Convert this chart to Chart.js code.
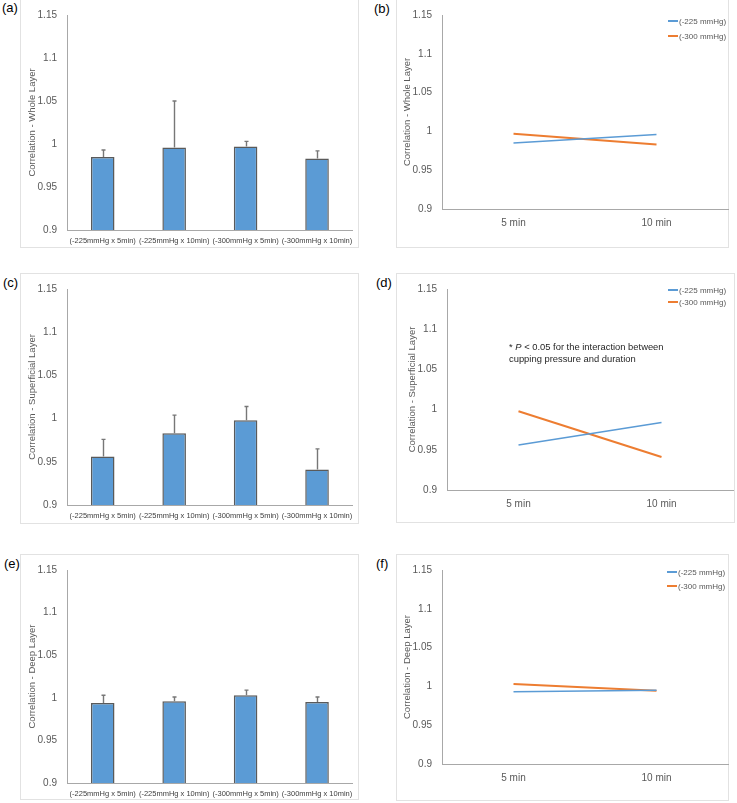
<!DOCTYPE html>
<html><head><meta charset="utf-8">
<script src="https://cdn.jsdelivr.net/npm/chart.js@4.4.0/dist/chart.umd.min.js"></script>
<style>
body{margin:0;background:#fff;width:737px;height:803px;position:relative;overflow:hidden;font-family:"Liberation Sans",Arial,sans-serif;}
.box{position:absolute;border:1px solid #e2e2e2;box-sizing:border-box;}
canvas{position:absolute;}
.lbl{position:absolute;font-size:13px;line-height:16px;color:#000;}
.leg{position:absolute;font-size:8px;line-height:10px;color:#595959;white-space:nowrap;}
.leg span{display:inline-block;width:10px;vertical-align:middle;margin-right:1px;position:relative;top:-1px;}
.note{position:absolute;font-size:9.4px;line-height:12px;color:#262626;white-space:nowrap;}
</style></head><body>
<script>
// ---- data ----
const barCategories = ['(-225mmHg x 5min)', '(-225mmHg x 10min)', '(-300mmHg x 5min)', '(-300mmHg x 10min)'];
const lineCategories = ['5 min', '10 min'];
const seriesNames = ['(-225 mmHg)', '(-300 mmHg)'];
const yTickLabels = ['0.9', '0.95', '1', '1.05', '1.1', '1.15'];

const wholeMeans = [0.985, 0.996, 0.997, 0.983];
const wholeSD = [0.008, 0.054, 0.006, 0.009];
const superficialMeans = [0.956, 0.983, 0.998, 0.941];
const superficialSD = [0.020, 0.021, 0.016, 0.024];
const deepMeans = [0.994, 0.996, 1.003, 0.995];
const deepSD = [0.009, 0.005, 0.006, 0.006];

const whole225 = [0.985, 0.996];
const whole300 = [0.997, 0.983];
const superficial225 = [0.956, 0.984];
const superficial300 = [0.998, 0.941];
const deep225 = [0.993, 0.995];
const deep300 = [1.003, 0.9945];

// ---- layout ----
const FONT = '"Liberation Sans", Arial, sans-serif';
const BLUE = '#5B9BD5', ORANGE = '#ED7D31', AXIS = '#a8a8a8', TXT = '#595959';

const errorBarPlugin = {
  id: 'errorBars',
  afterDatasetsDraw(chart, args, opts) {
    const sd = opts.sd; if (!sd) return;
    const meta = chart.getDatasetMeta(0);
    const ys = chart.scales.y;
    const ctx = chart.ctx;
    const vals = chart.data.datasets[0].data;
    ctx.save();
    ctx.strokeStyle = '#777777';
    ctx.lineWidth = 1.4;
    meta.data.forEach((bar, i) => {
      const yt = ys.getPixelForValue(vals[i] + sd[i]);
      const x = Math.round(bar.x) + 0.5;
      ctx.beginPath();
      ctx.moveTo(x, bar.y); ctx.lineTo(x, yt);
      ctx.moveTo(x - 2, yt); ctx.lineTo(x + 2, yt);
      ctx.stroke();
    });
    ctx.restore();
  }
};

function addBox(p) {
  const d = document.createElement('div');
  d.className = 'box';
  d.style.cssText = `left:${p.l}px;top:${p.t}px;width:${p.w}px;height:${p.h}px;`;
  document.body.appendChild(d);
  const c = document.createElement('canvas');
  c.width = p.w; c.height = p.h;
  c.style.left = p.l + 'px'; c.style.top = p.t + 'px';
  document.body.appendChild(c);
  const lb = document.createElement('div');
  lb.className = 'lbl'; lb.textContent = p.label;
  lb.style.left = p.lx + 'px'; lb.style.top = p.ly + 'px';
  document.body.appendChild(lb);
  return c;
}

function yScale(p) {
  return {
    min: 0.9, max: 1.15,
    ticks: { stepSize: 0.05, padding: 10, color: TXT, font: { size: 10, family: FONT },
      callback: v => yTickLabels[Math.round((v - 0.9) / 0.05)] },
    grid: { display: false, drawTicks: false },
    border: { display: true, color: AXIS, width: 1 },
    title: { display: true, text: p.ytitle, color: TXT, font: { size: 9.5, family: FONT }, padding: { top: p.tp, bottom: 0 } },
    afterFit: s => { s.width = p.yw; }
  };
}

function barChart(p, means, sd) {
  const c = addBox(p);
  new Chart(c, {
    type: 'bar',
    data: { labels: barCategories, datasets: [{ data: means, backgroundColor: BLUE, borderColor: '#5a5a5a', borderWidth: 1.5, barPercentage: 0.33, categoryPercentage: 1 }] },
    options: {
      responsive: false, animation: false, devicePixelRatio: 1,
      layout: { padding: { top: p.pt, right: p.pr, left: 0, bottom: 0 } },
      plugins: { legend: { display: false }, tooltip: { enabled: false }, errorBars: { sd: sd } },
      scales: {
        x: { ticks: { padding: 6, color: '#404040', font: { size: 7.5, family: FONT }, maxRotation: 0, autoSkip: false },
          grid: { display: false, drawTicks: false }, border: { display: true, color: AXIS },
          afterFit: s => { s.height = p.xh; } },
        y: yScale(p)
      }
    },
    plugins: [errorBarPlugin]
  });
}

function lineChart(p, s225, s300) {
  const c = addBox(p);
  new Chart(c, {
    type: 'line',
    data: { labels: lineCategories, datasets: [
      { label: seriesNames[0], data: s225, borderColor: BLUE, borderWidth: 1.5, pointRadius: 0, fill: false, tension: 0 },
      { label: seriesNames[1], data: s300, borderColor: ORANGE, borderWidth: 2, pointRadius: 0, fill: false, tension: 0 }
    ] },
    options: {
      responsive: false, animation: false, devicePixelRatio: 1,
      layout: { padding: { top: p.pt, right: p.pr, left: 0, bottom: 0 } },
      plugins: { legend: { display: false }, tooltip: { enabled: false } },
      scales: {
        x: { offset: true, ticks: { padding: 8, color: TXT, font: { size: 10, family: FONT }, maxRotation: 0 },
          grid: { display: false, drawTicks: false, offset: true }, border: { display: true, color: AXIS },
          afterFit: s => { s.height = p.xh; } },
        y: yScale(p)
      }
    }
  });
  // legend
  const cols = [BLUE, ORANGE];
  p.leg.forEach((yy, i) => {
    const d = document.createElement('div');
    d.className = 'leg';
    d.style.left = p.legx + 'px'; d.style.top = (yy - 5) + 'px';
    d.innerHTML = `<span style="height:${i ? 2 : 1.5}px;background:${cols[i]}"></span>` + seriesNames[i];
    document.body.appendChild(d);
  });
}

barChart({ l: 20, t: -1, w: 339, h: 249, pt: 11, pr: 6, yw: 47, xh: 18, tp: 7, ytitle: 'Correlation - Whole Layer', label: '(a)', lx: 2, ly: 0 }, wholeMeans, wholeSD);
lineChart({ l: 396, t: -1, w: 333, h: 249, pt: 11, pr: 1, yw: 46, xh: 39, tp: 6, ytitle: 'Correlation - Whole Layer', label: '(b)', lx: 374, ly: 1, leg: [22, 37], legx: 668 }, whole225, whole300);

barChart({ l: 20, t: 273, w: 339, h: 251, pt: 13, pr: 6, yw: 47, xh: 19, tp: 7, ytitle: 'Correlation - Superficial Layer', label: '(c)', lx: 3, ly: 275 }, superficialMeans, superficialSD);
lineChart({ l: 396, t: 273, w: 339, h: 250, pt: 16, pr: 2, yw: 51, xh: 33, tp: 11, ytitle: 'Correlation - Superficial Layer', label: '(d)', lx: 376, ly: 275, leg: [291, 303], legx: 668 }, superficial225, superficial300);

barChart({ l: 20, t: 554, w: 339, h: 246, pt: 9, pr: 6, yw: 47, xh: 17, tp: 7, ytitle: 'Correlation - Deep Layer', label: '(e)', lx: 4, ly: 556 }, deepMeans, deepSD);
lineChart({ l: 396, t: 554, w: 333, h: 247, pt: 9, pr: 1, yw: 46, xh: 37, tp: 6, ytitle: 'Correlation - Deep Layer', label: '(f)', lx: 376, ly: 556, leg: [573, 587], legx: 667 }, deep225, deep300);

const note = document.createElement('div');
note.className = 'note';
note.style.left = '509px'; note.style.top = '341px';
note.innerHTML = '* <i>P</i> &lt; 0.05 for the interaction between<br>cupping pressure and duration';
document.body.appendChild(note);
</script>
</body></html>
